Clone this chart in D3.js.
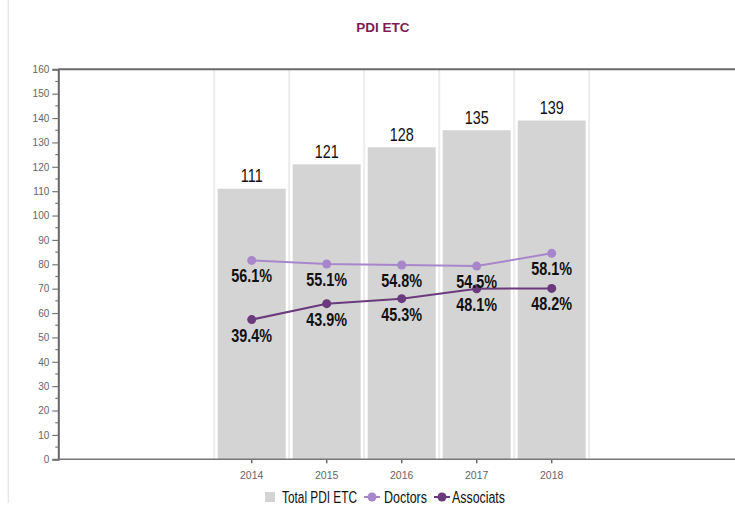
<!DOCTYPE html>
<html>
<head>
<meta charset="utf-8">
<script src="https://cdn.jsdelivr.net/npm/d3@7"></script>
<style>
  html, body { margin: 0; padding: 0; background: #fff; }
  svg { display: block; font-family: "Liberation Sans", Arial, sans-serif; }
</style>
</head>
<body>
<svg id="chart" width="735" height="506"></svg>
<script>
const title = "PDI ETC";
const years = ["2014", "2015", "2016", "2017", "2018"];
const totalPDI = [111, 121, 128, 135, 139];
const doctorsPct = [56.1, 55.1, 54.8, 54.5, 58.1];
const associatsPct = [39.4, 43.9, 45.3, 48.1, 48.2];
const yTickValues = [0, 10, 20, 30, 40, 50, 60, 70, 80, 90, 100, 110, 120, 130, 140, 150, 160];
const legendLabels = ["Total PDI ETC", "Doctors", "Associats"];

(function () {
const colBar = "#d4d4d4";
const colDoc = "#a886cb";
const colAss = "#6a3a7d";

const svg = d3.select("#chart");
const W = 735, H = 506;
const pLeft = 58.3, pRight = 735, pTop = 69.3, pBottom = 459.3;

svg.append("rect").attr("width", W).attr("height", H).attr("fill", "#fff");
// left border
svg.append("line").attr("x1", 8.3).attr("x2", 8.3).attr("y1", 0).attr("y2", 503)
  .attr("stroke", "#e8e8e8").attr("stroke-width", 1.5);

// scales
const x = d3.scaleBand().domain(years).range([214.2, 589.2]).paddingInner(0.0933).paddingOuter(0.0467);
const y = d3.scaleLinear().domain([0, 160]).range([pBottom, pTop]);
const yp = d3.scaleLinear().domain([0, 110]).range([pBottom, pTop]);
const cx = d => x(d) + x.bandwidth() / 2;

// vertical grid lines at band boundaries
const bounds = years.map(d => cx(d) - x.step() / 2).concat([cx(years[years.length - 1]) + x.step() / 2]);
svg.append("g").selectAll("line").data(bounds).join("line")
  .attr("x1", d => d).attr("x2", d => d).attr("y1", pTop).attr("y2", pBottom)
  .attr("stroke", "#ececec").attr("stroke-width", 2);

// bars
svg.append("g").selectAll("rect").data(years).join("rect")
  .attr("x", d => x(d)).attr("width", x.bandwidth())
  .attr("y", (d, i) => y(totalPDI[i])).attr("height", (d, i) => pBottom - y(totalPDI[i]))
  .attr("fill", colBar);

// top frame line
svg.append("line").attr("x1", pLeft).attr("x2", pRight).attr("y1", pTop).attr("y2", pTop)
  .attr("stroke", "#6a6a6a").attr("stroke-width", 2);

// y axis
const yAxis = d3.axisLeft(y).tickValues(yTickValues).tickSize(6).tickPadding(3);
const gy = svg.append("g").attr("transform", `translate(${pLeft},0)`).call(yAxis);
gy.select(".domain").attr("stroke", "#666").attr("stroke-width", 2);
gy.selectAll(".tick line").attr("stroke", "#777").attr("stroke-width", 1.2);
gy.selectAll(".tick text").attr("fill", "#666").style("font-size", "10px")
  .style("font-family", "'Liberation Sans', Arial, sans-serif");
// minor ticks
const minor = d3.range(5, 160, 10);
svg.append("g").selectAll("line").data(minor).join("line")
  .attr("x1", pLeft - 3).attr("x2", pLeft).attr("y1", d => y(d)).attr("y2", d => y(d))
  .attr("stroke", "#777").attr("stroke-width", 1.2);

// x axis
const xAxis = d3.axisBottom(x).tickSize(4).tickPadding(8);
const gx = svg.append("g").attr("transform", `translate(0,${pBottom})`).call(xAxis);
gx.select(".domain").remove();
gx.selectAll(".tick line").attr("stroke", "#666").attr("stroke-width", 1.5);
gx.selectAll(".tick text").attr("fill", "#666").style("font-size", "10.5px")
  .style("font-family", "'Liberation Sans', Arial, sans-serif");
svg.append("line").attr("x1", pLeft).attr("x2", pRight).attr("y1", pBottom).attr("y2", pBottom)
  .attr("stroke", "#777").attr("stroke-width", 1.5);

// bar value labels
svg.append("g").selectAll("text").data(years).join("text")
  .attr("transform", (d, i) => `translate(${cx(d)},${y(totalPDI[i]) - 6.5}) scale(0.8,1)`)
  .attr("text-anchor", "middle").attr("fill", "#111").style("font-size", "18px")
  .text((d, i) => totalPDI[i]);

// lines
function drawSeries(vals, color) {
  const line = d3.line().x((d, i) => cx(years[i])).y(d => yp(d));
  svg.append("path").datum(vals).attr("d", line).attr("fill", "none")
    .attr("stroke", color).attr("stroke-width", 2);
  svg.append("g").selectAll("circle").data(vals).join("circle")
    .attr("cx", (d, i) => cx(years[i])).attr("cy", d => yp(d)).attr("r", 4.5)
    .attr("fill", color);
}
drawSeries(doctorsPct, colDoc);
drawSeries(associatsPct, colAss);

function drawLabels(vals) {
  svg.append("g").selectAll("text").data(vals).join("text")
    .attr("transform", (d, i) => `translate(${cx(years[i])},${yp(d) + 22}) scale(0.8,1)`)
    .attr("text-anchor", "middle").attr("fill", "#111")
    .style("font-size", "18px").style("font-weight", "bold")
    .text(d => d.toFixed(1) + "%");
}
drawLabels(doctorsPct);
drawLabels(associatsPct);

// title
svg.append("text").attr("x", 383).attr("y", 32).attr("text-anchor", "middle")
  .attr("fill", "#7d1b57").style("font-size", "13.5px").style("font-weight", "bold")
  .text(title);

// legend
const lg = svg.append("g");
lg.append("rect").attr("x", 265).attr("y", 492).attr("width", 10).attr("height", 10).attr("fill", colBar);
lg.append("text").attr("x", 282).attr("y", 503).attr("textLength", 75).attr("lengthAdjust", "spacingAndGlyphs")
  .attr("fill", "#111").style("font-size", "16px").text(legendLabels[0]);
[[372, colDoc, 384, 43, legendLabels[1]], [442, colAss, 452, 53, legendLabels[2]]].forEach(([sx, c, tx, tl, lbl]) => {
  lg.append("line").attr("x1", sx - 8).attr("x2", sx + 8).attr("y1", 497).attr("y2", 497)
    .attr("stroke", c).attr("stroke-width", 2);
  lg.append("circle").attr("cx", sx).attr("cy", 497).attr("r", 4.5).attr("fill", c);
  lg.append("text").attr("x", tx).attr("y", 503).attr("textLength", tl).attr("lengthAdjust", "spacingAndGlyphs")
    .attr("fill", "#111").style("font-size", "16px").text(lbl);
});
})();
</script>
</body>
</html>
